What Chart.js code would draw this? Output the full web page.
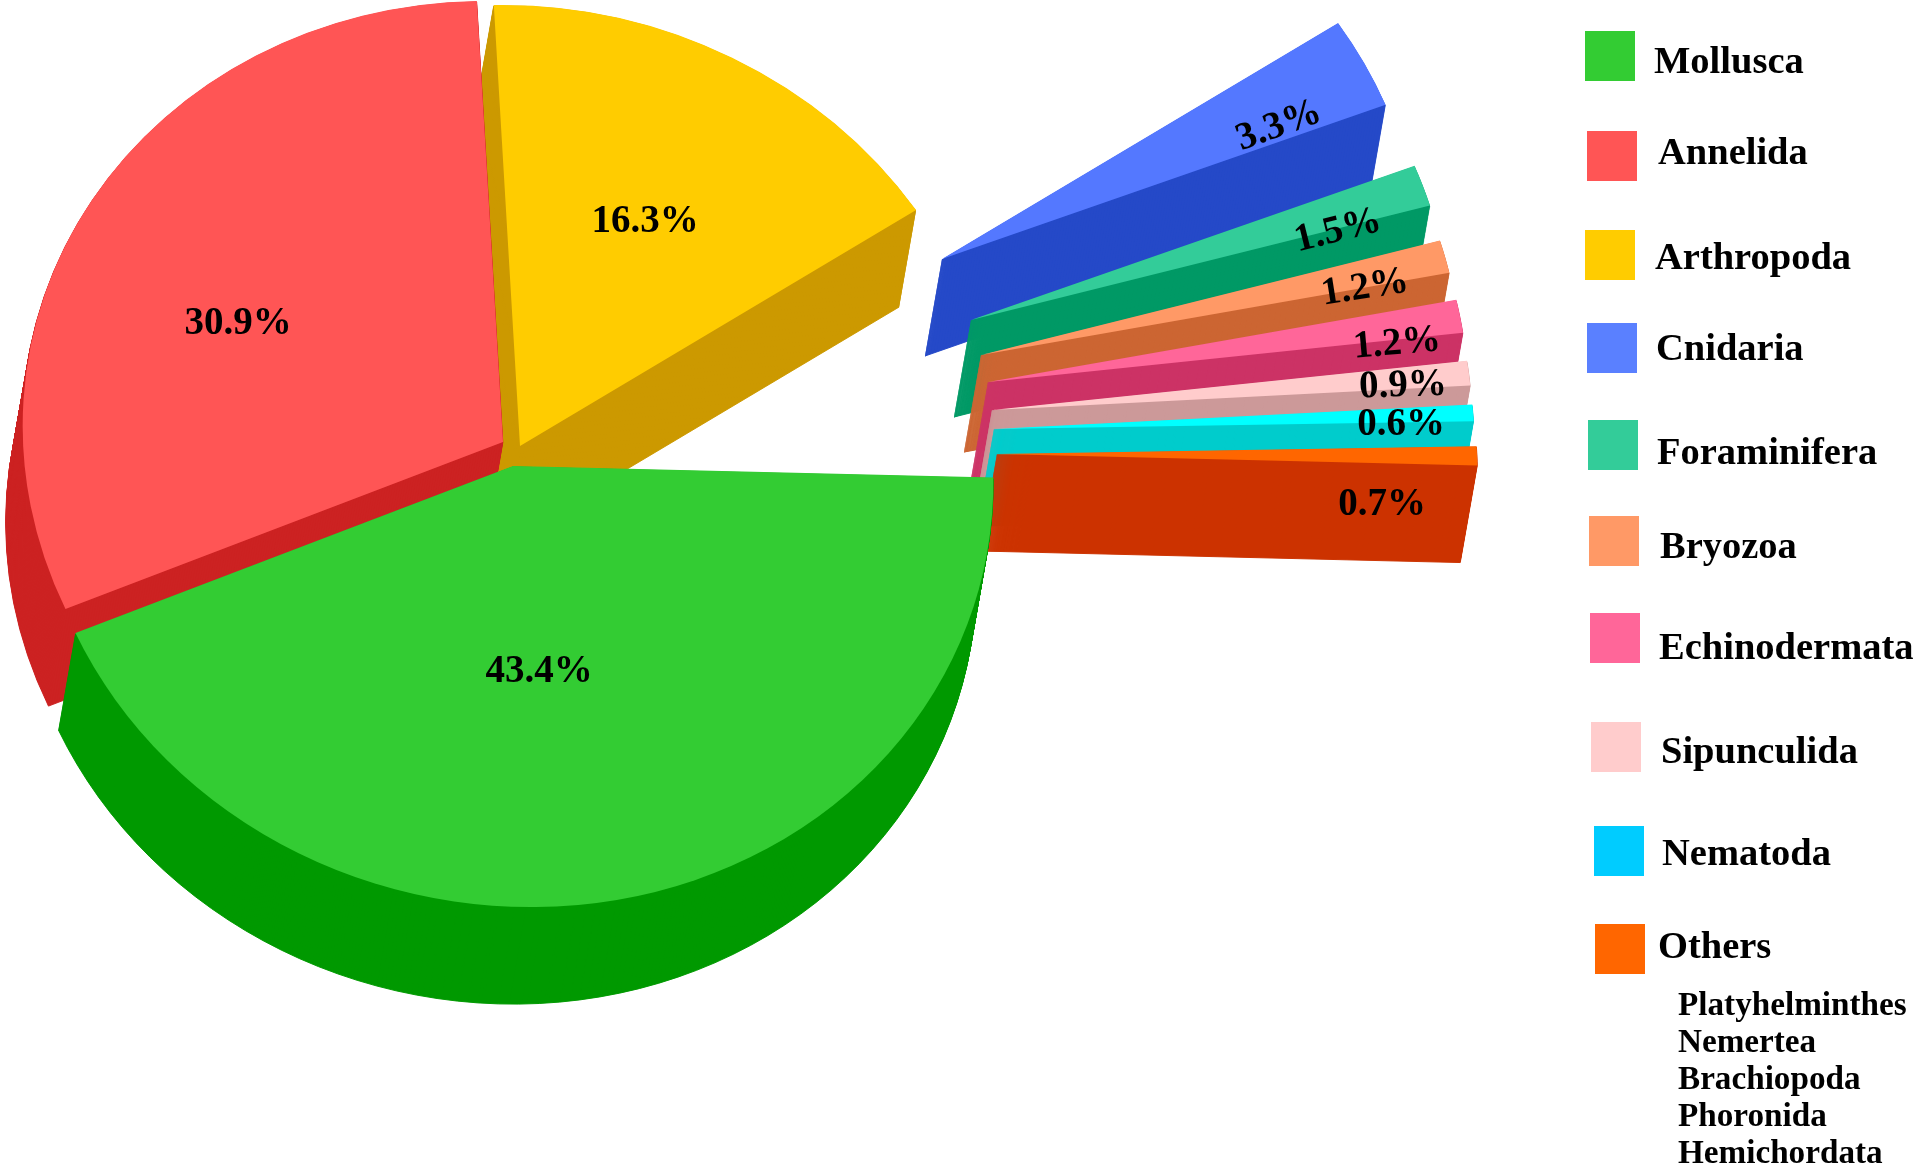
<!DOCTYPE html>
<html>
<head>
<meta charset="utf-8">
<title>Phyla composition</title>
<script src="https://cdn.jsdelivr.net/npm/chart.js@4/dist/chart.umd.min.js"></script>
<style>
  html, body { margin: 0; padding: 0; background: #fff; }
  canvas { display: block; }
</style>
</head>
<body>
<canvas id="pie3d" width="1918" height="1167"></canvas>
<script>
const phyla = ['Mollusca', 'Annelida', 'Arthropoda', 'Cnidaria', 'Foraminifera', 'Bryozoa', 'Echinodermata', 'Sipunculida', 'Nematoda', 'Others'];
const percents = [43.4, 30.9, 16.3, 3.3, 1.5, 1.2, 1.2, 0.9, 0.6, 0.7];
const otherPhyla = ['Platyhelminthes', 'Nemertea', 'Brachiopoda', 'Phoronida', 'Hemichordata'];

const topColors = ['#33CC33', '#FF5555', '#FFCC00', '#5478FF', '#33CC99', '#FF9966', '#FF6699', '#FFCCCC', '#00FFFF', '#FF6600'];
const sideColors = ['#009900', '#CC2222', '#CC9900', '#254AC8', '#009966', '#CC6633', '#CC3366', '#CC9999', '#00CCCC', '#CC3300'];
const legendColors = ['#33CC33', '#FF5555', '#FFCC00', '#5A80FF', '#33CC99', '#FF9966', '#FF6699', '#FFCCCC', '#00CCFF', '#FF6600'];

// pie layout
const CENTER_X = 513;
const CENTER_Y = 466;
const RADIUS = 480;
const TILT = 0.919;
const SHEAR = 0.04;
const DEPTH_X = -17;
const DEPTH_Y = 97;
const explodeX = [0, -10, 7, 429, 458, 468, 475, 479, 481, 484];
const explodeY = [0, -24, -20, -207, -146, -111, -84, -56, -37, -12];
const drawOrder = [2, 1, 3, 4, 5, 6, 7, 8, 9, 0];

// label and legend layout
const labelX = [539, 238, 645, 1279, 1338, 1365, 1397, 1403, 1401, 1382];
const labelY = [672, 324, 222, 126, 231, 288, 344, 386, 425, 505];
const labelAngle = [0, 0, 0, -20, -14, -9, -5, -2, 0, 0];
const swatchX = [1585, 1587, 1585, 1587, 1588, 1589, 1590, 1591, 1594, 1595];
const swatchY = [31, 131, 230, 323, 420, 516, 613, 722, 826, 924];
const legendTextX = [1654, 1658, 1655, 1656, 1657, 1660, 1659, 1661, 1662, 1658];
const legendTextY = [73, 164, 269, 360, 464, 558, 659, 763, 865, 958];
const otherTextX = 1678;
const otherTextY = [1015, 1052, 1089, 1126, 1163];

function paintArc(ctx, arc, color, dx, dy, edge) {
  const saved = arc.options;
  arc.options = Object.assign({}, saved, { backgroundColor: color, borderColor: color, borderWidth: edge });
  ctx.save();
  ctx.translate(CENTER_X + dx, CENTER_Y + dy);
  ctx.transform(1, 0, SHEAR * TILT, TILT, 0, 0);
  ctx.translate(-CENTER_X, -CENTER_Y);
  arc.draw(ctx);
  ctx.restore();
  arc.options = saved;
}

const pie3dPlugin = {
  id: 'pie3d',
  beforeDatasetDraw(chart, args) {
    const ctx = chart.ctx;
    drawOrder.forEach(i => {
      const arc = args.meta.data[i];
      for (let k = DEPTH_Y; k > 0; k--) {
        const dx = explodeX[i] + DEPTH_X * k / DEPTH_Y;
        const dy = explodeY[i] + k;
        paintArc(ctx, arc, sideColors[i], dx, dy, 1);
      }
      paintArc(ctx, arc, topColors[i], explodeX[i], explodeY[i], 0);
    });
    return false;
  },
  afterDraw(chart) {
    const ctx = chart.ctx;
    ctx.save();
    ctx.fillStyle = '#000';

    ctx.font = 'bold 39px "Liberation Serif"';
    ctx.textAlign = 'center';
    ctx.textBaseline = 'middle';
    percents.forEach((p, i) => {
      ctx.save();
      ctx.translate(labelX[i], labelY[i]);
      ctx.rotate(labelAngle[i] * Math.PI / 180);
      ctx.fillText(p.toFixed(1) + '%', 0, 0);
      ctx.restore();
    });

    ctx.font = 'bold 38.5px "Liberation Serif"';
    ctx.textAlign = 'left';
    ctx.textBaseline = 'alphabetic';
    phyla.forEach((name, i) => {
      ctx.fillStyle = legendColors[i];
      ctx.fillRect(swatchX[i], swatchY[i], 50, 50);
      ctx.fillStyle = '#000';
      ctx.fillText(name, legendTextX[i], legendTextY[i]);
    });

    ctx.font = 'bold 33.2px "Liberation Serif"';
    otherPhyla.forEach((name, i) => {
      ctx.fillText(name, otherTextX, otherTextY[i]);
    });
    ctx.restore();
  }
};

new Chart(document.getElementById('pie3d').getContext('2d'), {
  type: 'pie',
  data: {
    labels: phyla,
    datasets: [{
      data: percents,
      backgroundColor: topColors,
      borderWidth: 0
    }]
  },
  options: {
    responsive: false,
    animation: false,
    events: [],
    rotation: 91.5,
    radius: RADIUS,
    layout: { padding: { right: 1918 - 2 * CENTER_X, bottom: 1167 - 2 * CENTER_Y } },
    plugins: { legend: { display: false }, tooltip: { enabled: false } }
  },
  plugins: [pie3dPlugin]
});
</script>
</body>
</html>
